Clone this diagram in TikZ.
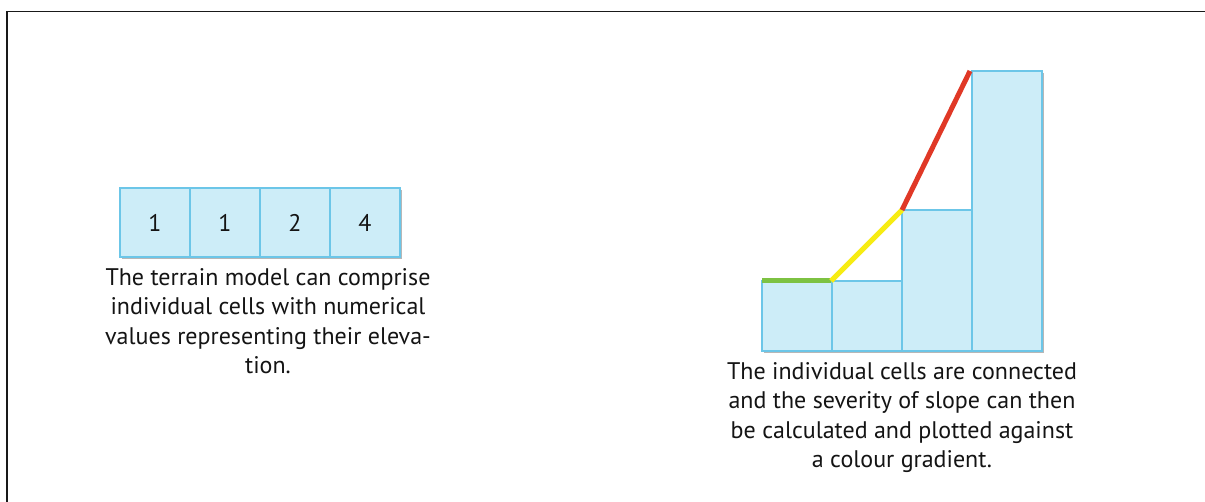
\documentclass[tikz,border=0pt]{standalone}
\usepackage{fontspec}
\setmainfont{PT Sans}
\usetikzlibrary{shadows}
\definecolor{cellfill}{HTML}{CDEDF8}
\definecolor{celledge}{HTML}{6CC6E8}
\definecolor{slgreen}{HTML}{7DC242}
\definecolor{slyellow}{HTML}{F7EC13}
\definecolor{slred}{HTML}{E03826}
\definecolor{txt}{HTML}{141414}
\tikzset{
  cell/.style={draw=celledge, fill=cellfill, line width=1.3pt,
    drop shadow={opacity=0.4, shadow xshift=2pt, shadow yshift=-2pt, fill=black!70}},
  celltxt/.style={font=\fontsize{24}{28}\selectfont, text=txt},
  caption/.style={font=\fontsize{24}{29.5}\selectfont, text=txt, align=center, inner sep=0pt},
  slopeline/.style={line width=5pt}
}
\begin{document}
\begin{tikzpicture}[x=1pt,y=-1pt]
\useasboundingbox (0,0) rectangle (1205,502);
\fill[white] (0,0) rectangle (1205,502);
% frame
\coordinate (fbl) at (7,502);
\coordinate (ftl) at (7,11.5);
\coordinate (ftr) at (1205,11.5);
\draw[line width=1.3pt, black!90] (fbl) -- (ftl) -- (ftr);
% left cells
\foreach \i/\v in {0/1,1/1,2/2,3/4}{
  \draw[cell] (120+70*\i,188) rectangle (190+70*\i,257);
  \node[celltxt] (c\i) at (155+70*\i,222.5) {\v};
}
\node[caption, anchor=north] (lefttext) at (268,268)
  {The terrain model can comprise\\individual cells with numerical\\values representing their eleva-\\tion.};
% right bars
\draw[cell] (762,281) rectangle (832,351);
\draw[cell] (832,281) rectangle (902,351);
\draw[cell] (902,210) rectangle (972,351);
\draw[cell] (972,71) rectangle (1042,351);
\coordinate (p0) at (762,281);
\coordinate (p1) at (831,281);
\coordinate (p2) at (902,210);
\coordinate (p3) at (970,71);
\draw[slopeline, slgreen] (p0) -- (p1);
\draw[slopeline, slyellow] (p1) -- (p2);
\draw[slopeline, slred] (p2) -- (p3);
\node[caption, anchor=north] (righttext) at (902,362)
  {The individual cells are connected\\and the severity of slope can then\\be calculated and plotted against\\a colour gradient.};
\end{tikzpicture}
\end{document}
